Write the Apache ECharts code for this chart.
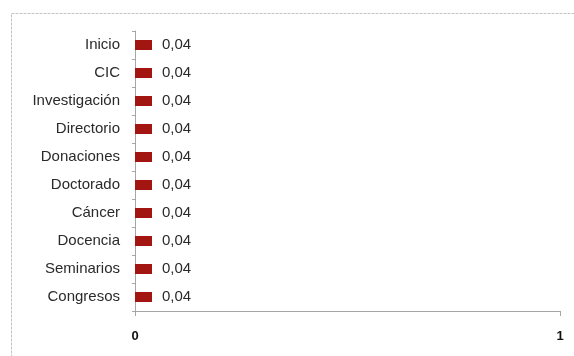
<!DOCTYPE html>
<html>
<head>
<meta charset="utf-8">
<script src="https://cdn.jsdelivr.net/npm/echarts@6/dist/echarts.min.js"></script>
<style>
    html, body { margin: 0; padding: 0; background: #fff; }
    #chart { width: 574px; height: 356px; }
</style>
</head>
<body>
<div id="chart"></div>
<script>
    // categorias de arriba a abajo
    var categories = ['Inicio', 'CIC', 'Investigación', 'Directorio', 'Donaciones',
        'Doctorado', 'Cáncer', 'Docencia', 'Seminarios', 'Congresos'];
    var values = [0.04, 0.04, 0.04, 0.04, 0.04, 0.04, 0.04, 0.04, 0.04, 0.04];
    var axisMin = 0;
    var axisMax = 1;

    var chart = echarts.init(document.getElementById('chart'));

    var option = {
        animation: false,
        textStyle: { fontFamily: 'Liberation Sans, Arial, sans-serif' },
        // marco punteado del grafico original
        graphic: [{
            type: 'rect',
            shape: { x: 11.5, y: 13.5, width: 600, height: 400 },
            style: { fill: 'none', stroke: '#c4c4c4', lineWidth: 1, lineDash: [3, 1] },
            silent: true
        }],
        grid: {
            left: 135,
            right: 14,
            top: 31,
            bottom: 45,
            containLabel: false
        },
        xAxis: {
            type: 'value',
            min: axisMin,
            max: axisMax,
            interval: 1,
            axisLine: { show: true, lineStyle: { color: '#a6a6a6' } },
            axisTick: { show: true, length: 5, lineStyle: { color: '#a6a6a6' } },
            splitLine: { show: false },
            axisLabel: {
                margin: 19,
                color: '#111',
                fontSize: 13,
                fontWeight: 'bold'
            }
        },
        yAxis: {
            type: 'category',
            data: categories,
            inverse: true,
            axisLine: { show: true, lineStyle: { color: '#a6a6a6' } },
            axisTick: { show: true, length: 3, lineStyle: { color: '#a6a6a6' } },
            axisLabel: {
                margin: 15,
                color: '#2a2a2a',
                fontSize: 15
            }
        },
        series: [{
            type: 'bar',
            data: values,
            barWidth: 10,
            itemStyle: { color: '#a31510' },
            label: {
                show: true,
                position: 'right',
                distance: 10,
                color: '#2a2a2a',
                fontSize: 15,
                formatter: function (p) {
                    return p.value.toFixed(2).replace('.', ',');
                }
            }
        }]
    };

    chart.setOption(option);
</script>
</body>
</html>
